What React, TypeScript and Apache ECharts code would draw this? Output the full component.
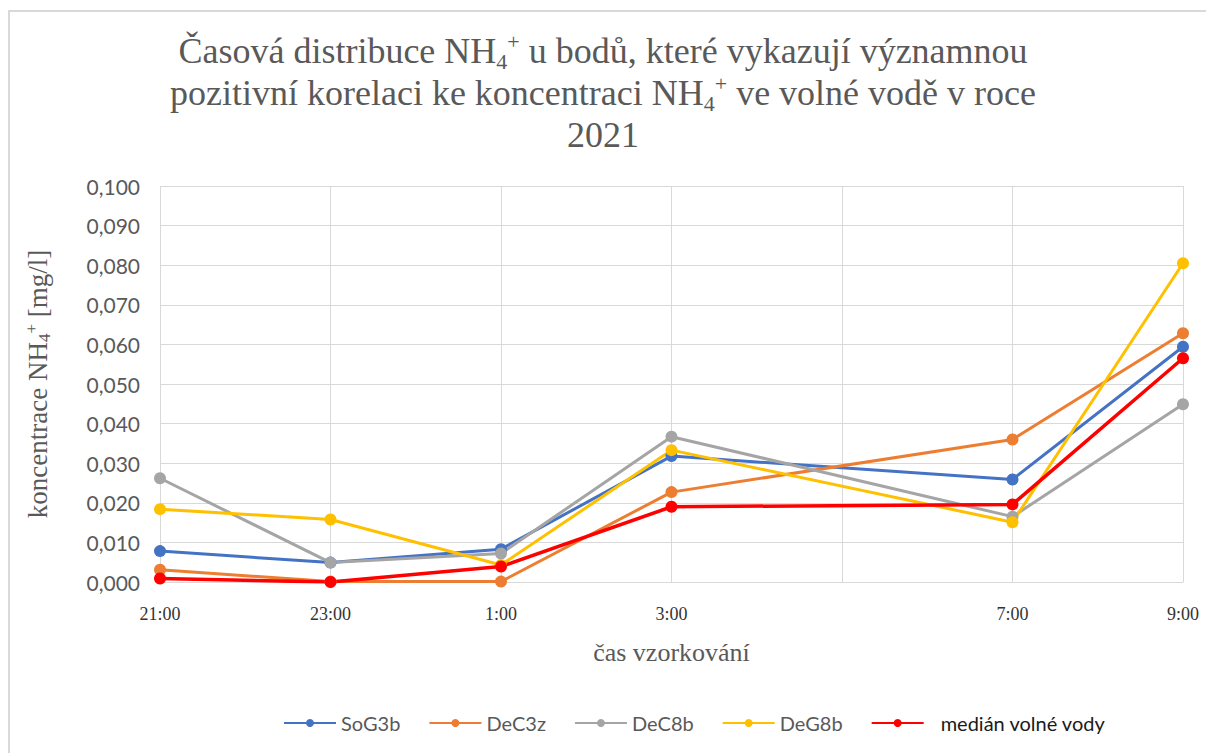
import React, { useEffect, useRef } from "react";
import * as echarts from "echarts";

// hours after 21:00 at which samples were taken
const sampleHours = [0, 2, 4, 6, 10, 12];
// tick labels every 2 hours from 21:00 (5:00 unlabeled in original)
const tickLabels = ["21:00", "23:00", "1:00", "3:00", "", "7:00", "9:00"];

const seriesNames = ["SoG3b", "DeC3z", "DeC8b", "DeG8b", "medián volné vody"];
const seriesColors = ["#4472C4", "#ED7D31", "#A5A5A5", "#FFC000", "#FF0000"];

const soG3b = [0.0078, 0.0049, 0.0083, 0.0318, 0.0259, 0.0594];
const deC3z = [0.0031, 0.0001, 0.0001, 0.0227, 0.036, 0.0628];
const deC8b = [0.0262, 0.0049, 0.0072, 0.0367, 0.0165, 0.0449];
const deG8b = [0.0184, 0.0158, 0.0043, 0.0333, 0.0151, 0.0805];
const median = [0.0009, 0.0, 0.0039, 0.019, 0.0196, 0.0565];

const seriesValues = [soG3b, deC3z, deC8b, deG8b, median];

export default function App() {
  const ref = useRef<HTMLDivElement>(null);

  useEffect(() => {
    if (!ref.current) return;
    const chart = echarts.init(ref.current, null, { renderer: "svg" });
    const serif = "Liberation Serif";
    const sans = "Lato";
    const grey = "#595959";

    const series = seriesValues.map((vals, i) => ({
      name: seriesNames[i],
      type: "line",
      data: vals.map((v, j) => [sampleHours[j], v]),
      symbol: "circle",
      symbolSize: 12,
      showAllSymbol: true,
      lineStyle: { color: seriesColors[i], width: i === 4 ? 3.5 : 3 },
      itemStyle: { color: seriesColors[i] },
      emphasis: { disabled: true },
    }));

    const richStyles = (base: number, small: number, lh: number) => ({
      b: { fontFamily: serif, fontSize: base, color: grey, lineHeight: lh },
      sub: { fontFamily: serif, fontSize: small, color: grey, lineHeight: small, verticalAlign: "bottom" },
      sup: { fontFamily: serif, fontSize: small, color: grey, lineHeight: small, verticalAlign: "top" },
    });

    chart.setOption({
      animation: false,
      backgroundColor: "#ffffff",
      graphic: [
        {
          type: "rect",
          shape: { x: 9, y: 11, width: 1220, height: 780 },
          style: { fill: "none", stroke: "#d9d9d9", lineWidth: 2 },
          silent: true,
        },
      ],
      title: {
        text:
          "{b|Časová distribuce NH}{sub|4}{sup|+}{b| u bodů, které vykazují významnou}\n" +
          "{b|pozitivní korelaci ke koncentraci NH}{sub|4}{sup|+}{b| ve volné vodě v roce}\n" +
          "{b|2021}",
        left: "center",
        top: 30,
        padding: 0,
        textStyle: {
          fontFamily: serif,
          fontSize: 36,
          fontWeight: "normal",
          color: grey,
          lineHeight: 42,
          rich: richStyles(36, 22, 42),
        },
      },
      legend: {
        left: 278,
        top: 708,
        itemWidth: 52,
        itemHeight: 10,
        itemGap: 28,
        data: seriesNames.map((n, i) =>
          i === 4
            ? { name: n, textStyle: { color: "#1a1a1a", padding: [0, 0, 0, 12] } }
            : { name: n }
        ),
        textStyle: { fontFamily: sans, fontSize: 20, color: grey },
      },
      grid: { left: 160, right: 23, top: 186, bottom: 171, containLabel: false },
      xAxis: {
        type: "value",
        min: 0,
        max: 12,
        interval: 2,
        name: "čas vzorkování",
        nameLocation: "middle",
        nameGap: 57,
        nameTextStyle: { fontFamily: serif, fontSize: 26, color: grey },
        axisLine: { show: true, lineStyle: { color: "#d9d9d9", width: 1 } },
        axisTick: { show: false },
        axisLabel: {
          margin: 23,
          fontFamily: serif,
          fontSize: 18,
          color: "#333333",
          showMinLabel: true,
          showMaxLabel: true,
          formatter: (v: number) => tickLabels[Math.round(v / 2)] ?? "",
        },
        splitLine: { show: true, lineStyle: { color: "#d9d9d9", width: 1 } },
      },
      yAxis: {
        type: "value",
        min: 0,
        max: 0.1,
        interval: 0.01,
        name: "{b|koncentrace NH}{sub|4}{sup|+}{b| [mg/l]}",
        nameLocation: "middle",
        nameRotate: 90,
        nameGap: 107,
        nameTextStyle: {
          fontFamily: serif,
          fontSize: 27,
          color: grey,
          lineHeight: 30,
          rich: richStyles(27, 17, 30),
        },
        axisLine: { show: false },
        axisTick: { show: false },
        axisLabel: {
          margin: 20,
          fontFamily: sans,
          fontSize: 21,
          color: grey,
          formatter: (v: number) => v.toFixed(3).replace(".", ","),
        },
        splitLine: { show: true, lineStyle: { color: "#d9d9d9", width: 1 } },
      },
      series,
    });

    return () => chart.dispose();
  }, []);

  return (
    <div
      ref={ref}
      style={{ position: "fixed", left: 0, top: 0, width: 1206, height: 753 }}
    />
  );
}
